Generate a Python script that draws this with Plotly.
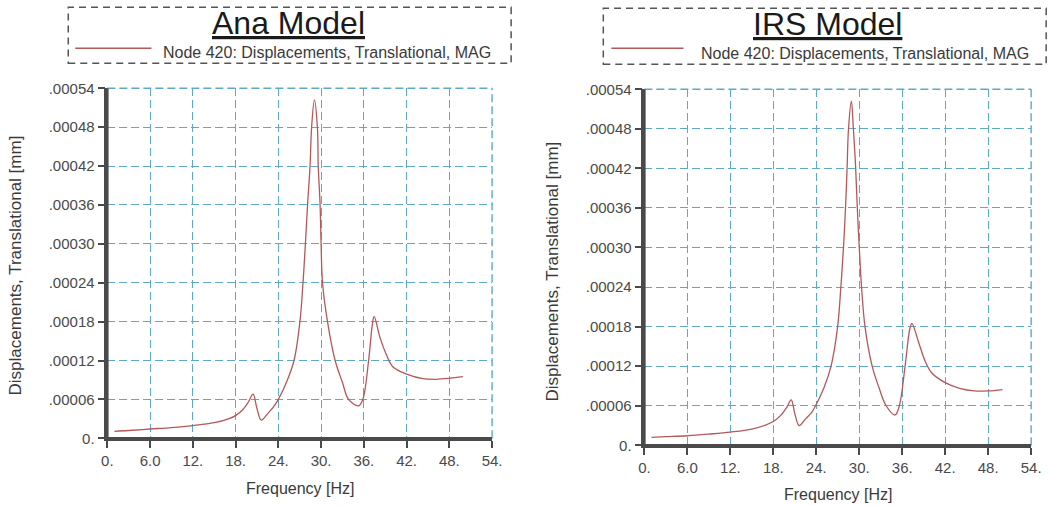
import plotly.graph_objects as go

# Empirical placement: the captured picture shows the page with an 8px body
# offset and a slight scale, so reference pixel positions are mapped through it.
SX, SY = 0.983, 0.967
OFF = 8
W, H = 1062, 516

# ---------------- data (values in units of 1e-5 mm) ----------------
ana_freq = [1.0, 3.0, 6.0, 9.0, 12.0, 15.0, 17.0, 18.0, 19.0, 19.8, 20.45, 21.0, 21.6, 22.5, 23.3,
            24.0, 25.2, 26.2, 27.03, 27.46, 27.8, 28.1, 28.45, 28.67, 29.06, 29.48, 29.6, 29.86,
            30.0, 30.2, 30.9, 31.97, 33.0, 33.85, 35.26, 35.86, 36.67, 37.2, 37.45, 38.25, 39.2,
            40.1, 42.0, 44.3, 46.1, 48.0, 49.9]
ana_disp_e5 = [1.08, 1.2, 1.43, 1.65, 1.96, 2.4, 3.0, 3.5, 4.4, 5.6, 6.8, 4.6, 2.8, 3.8, 4.8,
               6.0, 8.8, 12.0, 18.0, 24.0, 30.0, 36.0, 42.0, 48.0, 52.2, 48.0, 42.0, 36.0,
               30.0, 24.0, 18.0, 12.0, 8.6, 6.0, 5.0, 6.0, 12.0, 17.6, 18.8, 15.6, 12.8,
               11.0, 9.9, 9.2, 9.1, 9.25, 9.5]

irs_freq = [1.0, 3.0, 6.0, 9.0, 12.0, 15.0, 17.0, 18.0, 19.0, 19.9, 20.5, 21.0, 21.6, 22.5, 23.3,
            23.9, 25.1, 26.06, 26.98, 27.43, 27.8, 28.08, 28.3, 28.5, 28.9, 29.18, 29.5, 29.73,
            30.0, 30.32, 30.8, 31.8, 32.8, 33.75, 35.0, 35.6, 36.4, 37.05, 37.35, 38.25, 39.2,
            40.1, 42.0, 44.0, 46.1, 48.0, 50.0]
irs_disp_e5 = [1.2, 1.3, 1.45, 1.7, 2.0, 2.45, 3.1, 3.6, 4.5, 5.8, 6.9, 4.8, 3.0, 4.0, 4.9,
               6.0, 8.8, 12.0, 18.0, 24.0, 30.0, 36.0, 42.0, 48.0, 52.2, 48.0, 42.0, 36.0,
               30.0, 24.0, 18.0, 12.0, 8.6, 6.0, 4.6, 6.0, 12.0, 17.6, 18.5, 15.75, 12.75,
               11.0, 9.5, 8.65, 8.25, 8.25, 8.45]

x_tickvals = [0, 6, 12, 18, 24, 30, 36, 42, 48, 54]
x_ticktext = ["0.", "6.0", "12.", "18.", "24.", "30.", "36.", "42.", "48.", "54."]
y_tickvals = [0, 0.00006, 0.00012, 0.00018, 0.00024, 0.00030, 0.00036, 0.00042, 0.00048, 0.00054]
y_ticktext = ["0.", ".00006", ".00012", ".00018", ".00024", ".00030", ".00036", ".00042", ".00048", ".00054"]

titles = ["Ana Model", "IRS Model"]
legend_label = "Node 420: Displacements, Translational, MAG"
x_title = "Frequency [Hz]"
y_title = "Displacements, Translational [mm]"

# ---------------- styling ----------------
FONT = "Liberation Sans, Arial, sans-serif"
LINE_COLOR = "#b4585a"
GRID_COLOR = "#5ea9c6"
AXIS_COLOR = "#4a4a4a"
TICK_FONT = dict(family=FONT, size=15, color="#4a4a4a")

def px_x(p):
    # reference picture pixel -> paper fraction
    return (p / SX - OFF) / W

def px_y(p):
    return 1 - (p / SY - OFF) / H

panels = [
    dict(xd=(109, 493), yd=(87, 437), freq=ana_freq, vals=ana_disp_e5,
         box=(70, 6, 512, 62), title_xy=(290, 22), leg_line=(77, 153, 47), leg_text=(163, 51),
         ytitle=(17, 264), xtitle=(301, 487)),
    dict(xd=(645, 1031), yd=(88, 444), freq=irs_freq, vals=irs_disp_e5,
         box=(604, 7, 1046, 63), title_xy=(828, 23), leg_line=(612, 684, 47), leg_text=(700, 52),
         ytitle=(553, 270), xtitle=(838, 493)),
]

fig = go.Figure()
shapes = []
annotations = []

for i, p in enumerate(panels):
    xa = "x" if i == 0 else "x2"
    ya = "y" if i == 0 else "y2"
    fig.add_trace(go.Scatter(
        x=p["freq"], y=[v * 1e-5 for v in p["vals"]],
        mode="lines", line=dict(color=LINE_COLOR, width=1.3, shape="spline", smoothing=1.0),
        xaxis=xa, yaxis=ya, showlegend=False, hoverinfo="x+y"))

    axis_common = dict(
        showline=True, linecolor=AXIS_COLOR, linewidth=2.5, mirror=False, layer="above traces",
        ticks="outside", ticklen=7, tickwidth=1.5, tickcolor=AXIS_COLOR,
        showgrid=True, gridcolor=GRID_COLOR, gridwidth=1.4, griddash="8px,4px",
        zeroline=False, tickfont=TICK_FONT, fixedrange=True,
    )
    xkey = "xaxis" if i == 0 else "xaxis2"
    ykey = "yaxis" if i == 0 else "yaxis2"
    fig.update_layout(**{
        xkey: dict(axis_common, domain=[px_x(p["xd"][0]), px_x(p["xd"][1])], range=[0, 54],
                   tickvals=x_tickvals, ticktext=x_ticktext, anchor=ya),
        ykey: dict(axis_common, domain=[px_y(p["yd"][1]), px_y(p["yd"][0])], range=[0, 0.00054],
                   tickvals=y_tickvals, ticktext=y_ticktext, anchor=xa),
    })

    # dashed grid at the far edges (top / right), like the reference
    shapes.append(dict(type="line", xref=xa + " domain", yref=ya + " domain",
                       x0=0, x1=1, y0=1, y1=1, layer="below",
                       line=dict(color=GRID_COLOR, width=1.4, dash="8px,4px")))
    shapes.append(dict(type="line", xref=xa + " domain", yref=ya + " domain",
                       x0=1, x1=1, y0=0, y1=1, layer="below",
                       line=dict(color=GRID_COLOR, width=1.4, dash="8px,4px")))
    # solid axis lines along the left and bottom edges of each plot area
    shapes.append(dict(type="line", xref=xa + " domain", yref=ya + " domain",
                       x0=0, x1=0, y0=0, y1=1, layer="above",
                       line=dict(color=AXIS_COLOR, width=2.5)))
    shapes.append(dict(type="line", xref=xa + " domain", yref=ya + " domain",
                       x0=0, x1=1, y0=0, y1=0, layer="above",
                       line=dict(color=AXIS_COLOR, width=2.5)))

    # legend-like header box
    x0, y0, x1, y1 = p["box"]
    shapes.append(dict(type="rect", xref="paper", yref="paper",
                       x0=px_x(x0), x1=px_x(x1), y0=px_y(y1), y1=px_y(y0),
                       line=dict(color="#555555", width=1.5, dash="7px,5px")))
    lx0, lx1, ly = p["leg_line"]
    shapes.append(dict(type="line", xref="paper", yref="paper",
                       x0=px_x(lx0), x1=px_x(lx1), y0=px_y(ly), y1=px_y(ly),
                       line=dict(color=LINE_COLOR, width=1.5)))
    annotations.append(dict(text="<u>" + titles[i] + "</u>", xref="paper", yref="paper",
                            x=px_x(p["title_xy"][0]), y=px_y(p["title_xy"][1]),
                            xanchor="center", yanchor="middle", showarrow=False,
                            font=dict(family=FONT, size=32, color="#1a1a1a")))
    annotations.append(dict(text=legend_label, xref="paper", yref="paper",
                            x=px_x(p["leg_text"][0]), y=px_y(p["leg_text"][1]),
                            xanchor="left", yanchor="middle", showarrow=False,
                            font=dict(family=FONT, size=16, color="#3a3a3a")))
    annotations.append(dict(text=y_title, xref="paper", yref="paper", textangle=-90,
                            x=px_x(p["ytitle"][0]), y=px_y(p["ytitle"][1]),
                            xanchor="center", yanchor="middle", showarrow=False,
                            font=dict(family=FONT, size=17, color="#3a3a3a")))
    annotations.append(dict(text=x_title, xref="paper", yref="paper",
                            x=px_x(p["xtitle"][0]), y=px_y(p["xtitle"][1]),
                            xanchor="center", yanchor="middle", showarrow=False,
                            font=dict(family=FONT, size=16, color="#3a3a3a")))

fig.update_layout(
    width=W, height=H, autosize=False,
    margin=dict(l=0, r=0, t=0, b=0),
    paper_bgcolor="white", plot_bgcolor="white",
    shapes=shapes, annotations=annotations,
)

fig.write_html("out.html")
